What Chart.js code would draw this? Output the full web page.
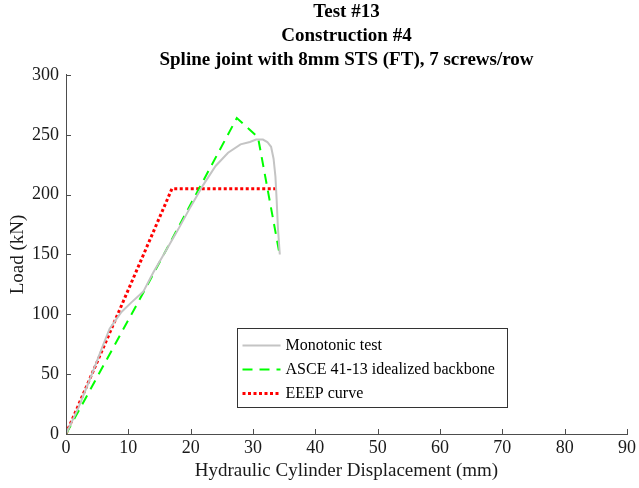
<!DOCTYPE html>
<html>
<head>
<meta charset="utf-8">
<script src="https://cdn.jsdelivr.net/npm/chart.js"></script>
<style>
  html, body { margin: 0; padding: 0; background: #fff; }
  #wrap { width: 639px; height: 488px; }
</style>
</head>
<body>
<div id="wrap"><canvas id="myChart" width="639" height="488"></canvas></div>
<script>
// Title and labels
const titleLines = ['Test #13', 'Construction #4', 'Spline joint with 8mm STS (FT), 7 screws/row'];
const xTitle = 'Hydraulic Cylinder Displacement (mm)';
const yTitle = 'Load (kN)';

// Monotonic test curve
const monoX = [0, 2, 4, 6, 7, 8.9, 10.5, 12.4, 14, 16, 18, 20, 22, 24, 26, 28, 29.5, 30.5, 31.6, 32.3, 32.9, 33.3, 33.6, 33.8, 34.0, 34.3];
const monoY = [0, 22, 48, 75, 88, 102, 110, 119, 135, 153, 171, 190, 208, 224, 235, 242, 244, 246, 246, 244, 240, 230, 215, 195, 172, 150];

// ASCE 41-13 idealized backbone
const asceX = [0, 12.6, 27.4, 30.8, 34.2];
const asceY = [0, 120, 264, 248, 152];

// EEEP curve
const eeepX = [0, 17, 33.8];
const eeepY = [0, 205, 205];

const toPts = (xs, ys) => xs.map((x, i) => ({ x: x, y: ys[i] }));

const serif = "'Liberation Serif', 'Times New Roman', serif";
const axisColor = '#4d4d4d';

// center the title over the plot area, like the original
const titleOverArea = {
    id: 'titleOverArea',
    afterLayout(chart) {
        if (chart.titleBlock) {
            chart.titleBlock.left = chart.chartArea.left;
            chart.titleBlock.right = chart.chartArea.right;
        }
    }
};

// inward tick marks
const innerTicks = {
    id: 'innerTicks',
    afterDraw(chart) {
        const ctx = chart.ctx;
        const a = chart.chartArea;
        const xs = chart.scales.x, ys = chart.scales.y;
        ctx.save();
        ctx.strokeStyle = axisColor;
        ctx.lineWidth = 1;
        ctx.beginPath();
        xs.ticks.forEach(t => {
            const px = Math.round(xs.getPixelForValue(t.value)) + 0.5;
            ctx.moveTo(px, a.bottom);
            ctx.lineTo(px, a.bottom - 5);
        });
        ys.ticks.forEach(t => {
            const py = Math.round(ys.getPixelForValue(t.value)) + 0.5;
            ctx.moveTo(a.left, py);
            ctx.lineTo(a.left + 5, py);
        });
        ctx.stroke();
        ctx.restore();
    }
};

// legend box inside the plot
const boxLegend = {
    id: 'boxLegend',
    afterDraw(chart) {
        const ctx = chart.ctx;
        const bx = 237.5, by = 328.5, bw = 270, bh = 79;
        ctx.save();
        ctx.fillStyle = '#ffffff';
        ctx.fillRect(bx, by, bw, bh);
        ctx.strokeStyle = '#333333';
        ctx.lineWidth = 1;
        ctx.strokeRect(bx, by, bw, bh);
        ctx.font = '16px ' + serif;
        ctx.textBaseline = 'middle';
        chart.data.datasets.forEach((ds, i) => {
            const y = by + 17 + i * 24;
            ctx.strokeStyle = ds.borderColor;
            ctx.lineWidth = ds.borderWidth;
            ctx.setLineDash(ds.borderDash || []);
            ctx.beginPath();
            ctx.moveTo(bx + 5, y);
            ctx.lineTo(bx + 43, y);
            ctx.stroke();
            ctx.setLineDash([]);
            ctx.fillStyle = '#000000';
            ctx.fillText(ds.label, bx + 48, y);
        });
        ctx.restore();
    }
};

const ctx = document.getElementById('myChart').getContext('2d');
new Chart(ctx, {
    type: 'scatter',
    data: {
        datasets: [
            {
                label: 'Monotonic test',
                data: toPts(monoX, monoY),
                showLine: true,
                borderColor: '#c4c4c4',
                borderWidth: 2,
                pointRadius: 0,
                fill: false
            },
            {
                label: 'ASCE 41-13 idealized backbone',
                data: toPts(asceX, asceY),
                showLine: true,
                borderColor: '#00ff00',
                borderWidth: 2,
                borderDash: [10, 7],
                pointRadius: 0,
                fill: false
            },
            {
                label: 'EEEP curve',
                data: toPts(eeepX, eeepY),
                showLine: true,
                borderColor: '#ff0000',
                borderWidth: 3,
                borderDash: [3, 2.5],
                pointRadius: 0,
                fill: false
            }
        ]
    },
    options: {
        responsive: false,
        animation: false,
        layout: { padding: { left: 0, right: 11, top: 0, bottom: 0 } },
        plugins: {
            legend: { display: false },
            tooltip: { enabled: false },
            title: {
                display: true,
                text: titleLines,
                color: '#000000',
                font: { family: serif, size: 19, weight: 'bold', lineHeight: 1.263 },
                padding: { top: 0, bottom: 3 }
            }
        },
        scales: {
            x: {
                type: 'linear',
                min: 0,
                max: 90,
                afterFit: s => { s.height = 54; },
                ticks: {
                    stepSize: 10,
                    color: '#1a1a1a',
                    font: { family: serif, size: 18 },
                    padding: 3,
                    maxRotation: 0
                },
                grid: { display: true, drawOnChartArea: false, drawTicks: false, color: axisColor },
                border: { display: true, color: axisColor, width: 1 },
                title: {
                    display: true,
                    text: xTitle,
                    color: '#1a1a1a',
                    font: { family: serif, size: 19 },
                    padding: { top: 0, bottom: 6 }
                }
            },
            y: {
                type: 'linear',
                min: 0,
                max: 300,
                afterFit: s => { s.width = 66; },
                ticks: {
                    stepSize: 50,
                    color: '#1a1a1a',
                    font: { family: serif, size: 18 },
                    padding: 7
                },
                grid: { display: true, drawOnChartArea: false, drawTicks: false, color: axisColor },
                border: { display: true, color: axisColor, width: 1 },
                title: {
                    display: true,
                    text: yTitle,
                    color: '#1a1a1a',
                    font: { family: serif, size: 19 },
                    padding: { top: 7, bottom: 0 }
                }
            }
        }
    },
    plugins: [titleOverArea, innerTicks, boxLegend]
});
</script>
</body>
</html>
